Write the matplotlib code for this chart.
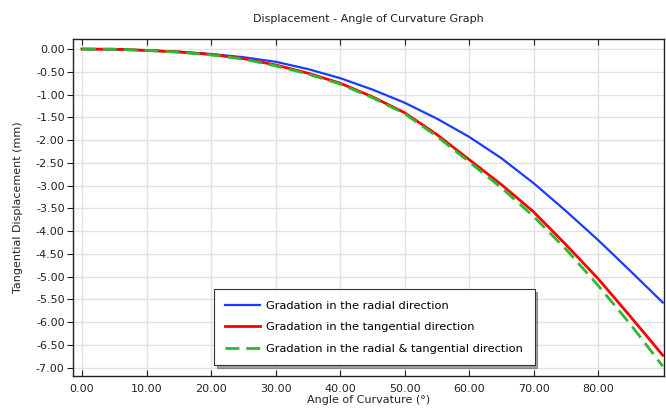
import matplotlib
matplotlib.use("Agg")
import matplotlib.pyplot as plt
from matplotlib.ticker import FormatStrFormatter, MultipleLocator, FixedLocator

plt.rcParams['axes.unicode_minus'] = False
plt.rcParams['font.family'] = ['DejaVu Sans']

# angle of curvature (deg)
angle = [0, 5, 10, 15, 20, 25, 30, 35, 40, 45, 50, 55, 60, 65, 70, 75, 80, 85, 90]

# tangential displacement (mm)
radial = [0, -0.005, -0.03, -0.06, -0.11, -0.18, -0.28, -0.44, -0.64, -0.89,
          -1.18, -1.53, -1.93, -2.40, -2.95, -3.56, -4.20, -4.88, -5.57]
tangential = [0, -0.005, -0.03, -0.065, -0.12, -0.21, -0.35, -0.53, -0.75, -1.05,
              -1.40, -1.88, -2.43, -2.98, -3.58, -4.30, -5.05, -5.88, -6.73]
both = [0, -0.005, -0.03, -0.07, -0.13, -0.22, -0.37, -0.55, -0.77, -1.07,
        -1.42, -1.92, -2.48, -3.05, -3.68, -4.40, -5.20, -6.05, -6.97]

xticks = [0, 10, 20, 30, 40, 50, 60, 70, 80]

labels = ['Gradation in the radial direction',
          'Gradation in the tangential direction',
          'Gradation in the radial & tangential direction']

fig = plt.figure(figsize=(6.66, 4.09), dpi=100)
ax = fig.add_axes([0.1096, 0.0814, 0.8874, 0.8232])

ax.plot(angle, radial, color='#1a3cff', lw=1.6, label=labels[0])
ax.plot(angle, tangential, color='#ff0000', lw=2.0, label=labels[1])
ax.plot(angle, both, color='#30b830', lw=2.0, dashes=(5, 2.5), label=labels[2])

ax.set_xlim(-1.4, 90.2)
ax.set_ylim(-7.18, 0.22)
ax.xaxis.set_major_locator(FixedLocator(xticks))
ax.yaxis.set_major_locator(MultipleLocator(0.5))
ax.xaxis.set_major_formatter(FormatStrFormatter('%.2f'))
ax.yaxis.set_major_formatter(FormatStrFormatter('%.2f'))
ax.grid(True, color='#e2e2e2', lw=1.0)
ax.set_axisbelow(True)

ax.tick_params(axis='x', direction='in', top=True, length=4, labelsize=8,
               colors='#222222', pad=6)
ax.tick_params(axis='y', direction='out', length=4, labelsize=8,
               colors='#222222', pad=2)
for s in ax.spines.values():
    s.set_color('#222222')
    s.set_linewidth(1.0)

ax.set_title('Displacement - Angle of Curvature Graph', fontsize=8,
             color='#222222', pad=12)
ax.set_xlabel('Angle of Curvature (°)', fontsize=8, color='#222222', labelpad=1)
ax.set_ylabel('Tangential Displacement (mm)', fontsize=8, color='#222222',
              labelpad=9)

leg = ax.legend(loc='lower left', bbox_to_anchor=(0.2386, 0.032),
                borderaxespad=0, fontsize=8.2, fancybox=False, shadow=True,
                framealpha=1, edgecolor='#333333', handlelength=3.0,
                handletextpad=0.6, labelspacing=1.0, borderpad=1.0)
leg.get_frame().set_linewidth(0.8)

fig.savefig('out.png', dpi=100)
